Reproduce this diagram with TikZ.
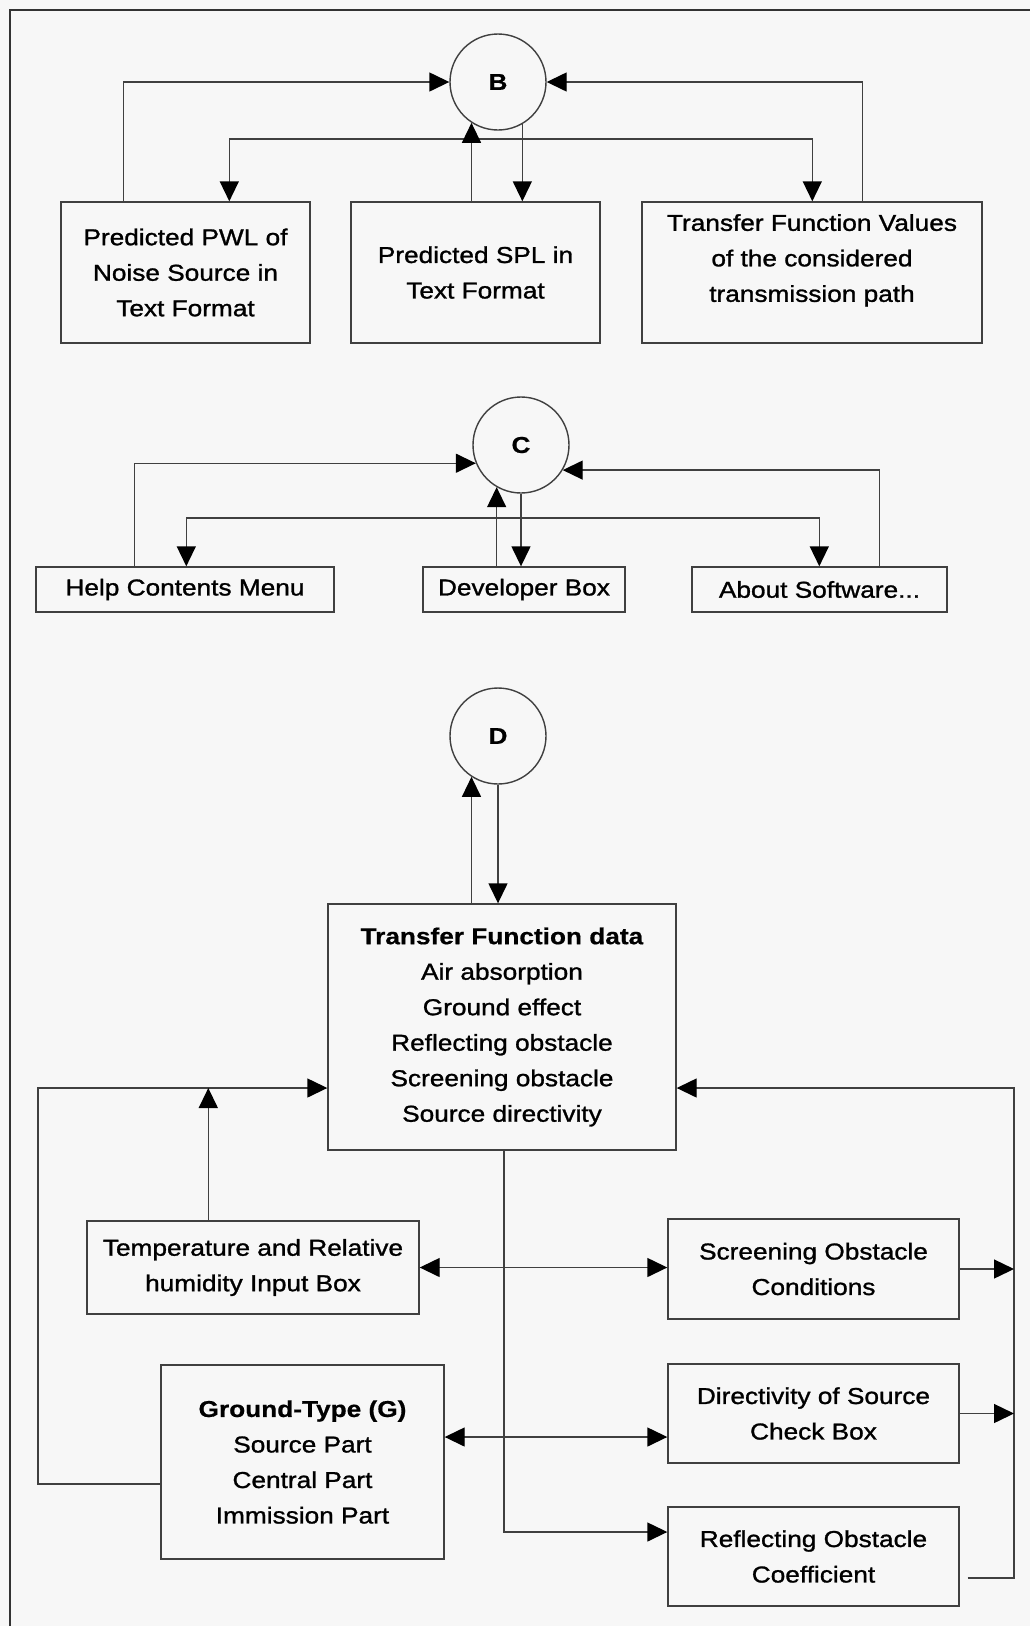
\documentclass[tikz,border=0pt]{standalone}
\usepackage{fontspec}
\setmainfont{Liberation Sans}[FakeStretch=1.14,UprightFeatures={FakeBold=1.2},BoldFeatures={FakeBold=0.6}]
\usetikzlibrary{arrows.meta,calc}

\begin{document}
\begin{tikzpicture}[x=1pt,y=-1pt,
  every node/.style={font=\fontsize{23}{35.5}\selectfont},
  line/.style={draw=black!75,line width=1.4pt},
  box/.style={line,rectangle,inner sep=0pt,align=center},
  hub/.style={line,circle,minimum size=96pt,inner sep=0pt,
    font=\fontsize{23}{35.5}\selectfont\bfseries},
  arr/.style={line,-{Triangle[length=20pt,width=19pt,color=black]}},
  arrboth/.style={line,{Triangle[length=20pt,width=19pt,color=black]}-{Triangle[length=20pt,width=19pt,color=black]}},
]
% page
\useasboundingbox (0,0) rectangle (1030,1626);
\fill[black!3] (0,0) rectangle (1030,1626);
\draw[black!80,line width=2.5pt] (10,1626) -- (10,10) -- (1030,10);

% ---- block B: output files
\node[hub] (B) at (498,82) {B};
\node[box,minimum width=249pt,minimum height=141pt] (pwl) at (185.5,272.5)
  {Predicted PWL of\\Noise Source in\\Text Format};
\node[box,minimum width=249pt,minimum height=141pt] (spl) at (475.5,272.5)
  {Predicted SPL in\\Text Format};
\node[box,minimum width=340pt,minimum height=141pt,text depth=29pt] (tfv) at (812,272.5)
  {Transfer Function Values\\of the considered\\transmission path};

\draw[arr] ($(pwl.north west)+(63,0)$) |- (B);
\draw[arr] ($(tfv.north west)+(221,0)$) |- (B);
\draw[arr] (B.-60) -- (B.-60 |- spl.north);
\coordinate (bsplit) at (B.-60 |- 0,139);
\draw[arr] (bsplit) -| ($(pwl.north west)+(169,0)$);
\draw[arr] (bsplit) -| ($(tfv.north west)+(171,0)$);
\draw[arr] (B.-123 |- spl.north) -- (B.-123);

% ---- block C: help menu
\node[hub] (C) at (521,445) {C};
\node[box,minimum width=298pt,minimum height=45pt] (help) at (185,589.5) {Help Contents Menu};
\node[box,minimum width=202pt,minimum height=45pt] (dev) at (524,589.5) {Developer Box};
\node[box,minimum width=255pt,minimum height=45pt] (about) at (819.5,589.5) {About Software...};

\draw[arr] ($(help.north west)+(99,0)$) |- (C.202);
\draw[arr] ($(about.north west)+(188,0)$) |- (C.-31);
\draw[arr] (C.south) -- (C.south |- dev.north);
\coordinate (csplit) at (C.south |- 0,518);
\draw[arr] (csplit) -| ($(help.north west)+(151,0)$);
\draw[arr] (csplit) -| ($(about.north west)+(128,0)$);
\draw[arr] (C.-120 |- dev.north) -- (C.-120);

% ---- block D: transfer function data
\node[hub] (D) at (498,736) {D};
\node[box,minimum width=348pt,minimum height=246pt] (tfd) at (502,1027)
  {\textbf{Transfer Function data}\\Air absorption\\Ground effect\\Reflecting obstacle\\Screening obstacle\\Source directivity};
\node[box,minimum width=332pt,minimum height=93pt] (temp) at (253,1267.5)
  {Temperature and Relative\\humidity Input Box};
\node[box,minimum width=283pt,minimum height=194pt] (ground) at (302.5,1462)
  {\textbf{Ground-Type (G)}\\Source Part\\Central Part\\Immission Part};
\node[box,minimum width=291pt,minimum height=100pt] (screen) at (813.5,1269)
  {Screening Obstacle\\Conditions};
\node[box,minimum width=291pt,minimum height=99pt] (direct) at (813.5,1413.5)
  {Directivity of Source\\Check Box};
\node[box,minimum width=291pt,minimum height=99pt] (reflect) at (813.5,1556.5)
  {Reflecting Obstacle\\Coefficient};

\draw[arr] (D.-123 |- tfd.north) -- (D.-123);
\draw[arr] (D.south) -- (D.south |- tfd.north);

\coordinate (lrail) at (38,1088);
\coordinate (rrail) at (1014,1088);
\draw[arr] ($(ground.west)+(0,22)$) -| (lrail) -- (lrail -| tfd.west);
\coordinate (tup) at ($(temp.north west)+(122,0)$);
\draw[arr] (tup) -- (tup |- lrail);
\draw[arr] ($(reflect.east)+(8,21.5)$) -| (rrail) -- (rrail -| tfd.east);
\draw[arr] (screen.east) -- (screen.east -| rrail);
\draw[arr] (direct.east) -- (direct.east -| rrail);
\draw[arrboth] (temp.east) -- (temp.east -| screen.west);
\coordinate (gd) at ($(ground.east)+(0,-25)$);
\draw[arrboth] (gd) -- (gd -| direct.west);
\draw[arr] ($(tfd.south)+(2,0)$) |- ($(reflect.west)+(0,-24.5)$);
\end{tikzpicture}
\end{document}
